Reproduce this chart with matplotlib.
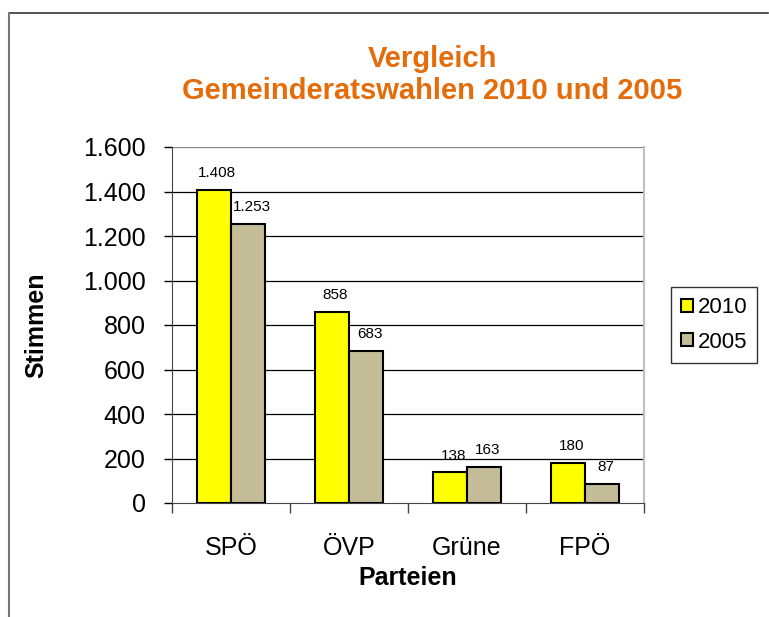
import matplotlib
matplotlib.use("Agg")
import matplotlib.pyplot as plt
import numpy as np
from matplotlib.lines import Line2D

categories = ["SPÖ", "ÖVP", "Grüne", "FPÖ"]
votes_2010 = [1408, 858, 138, 180]
votes_2005 = [1253, 683, 163, 87]
series_labels = ["2010", "2005"]
yticks = [0, 200, 400, 600, 800, 1000, 1200, 1400, 1600]

plt.rcParams['font.family'] = ['Liberation Sans', 'DejaVu Sans']

def de_fmt(v):
    return f"{v:,}".replace(",", ".")

W, H = 769, 617
fig = plt.figure(figsize=(W/100, H/100), dpi=100)

# outer frame (top and left edge)
fig.add_artist(Line2D([9/W, 768/W], [1-13/H, 1-13/H], color="#333333", lw=1.2, transform=fig.transFigure))
fig.add_artist(Line2D([9/W, 9/W], [1-13/H, 0], color="#777777", lw=1.5, transform=fig.transFigure))

ax = fig.add_axes([172/W, 1-503/H, (644-172)/W, (503-147)/H])

x = np.arange(len(categories))
bw = 0.29
b1 = ax.bar(x - bw/2, votes_2010, bw, color="#FFFF00", edgecolor="black", lw=1.5, label=series_labels[0], zorder=3)
b2 = ax.bar(x + bw/2, votes_2005, bw, color="#C4BD97", edgecolor="black", lw=1.5, label=series_labels[1], zorder=3)

for bars in (b1, b2):
    for r in bars:
        v = r.get_height()
        ax.annotate(de_fmt(int(v)), (r.get_x() + r.get_width()/2 + 0.03, v), xytext=(0, 7),
                    textcoords="offset points", ha="center", va="bottom", fontsize=11)

ax.set_xlim(-0.5, len(categories) - 0.5)
ax.set_ylim(0, 1600)
ax.set_yticks(yticks)
ax.set_yticklabels([de_fmt(t) for t in yticks], fontsize=18)
ax.set_xticks(x)
ax.set_xticklabels(categories, fontsize=18)
ax.tick_params(axis="x", length=0, pad=24)
ax.set_xticks(np.arange(-0.5, len(categories)), minor=True)
ax.tick_params(axis="x", which="minor", length=7, width=1, color="#444444")
ax.tick_params(axis="y", length=6, width=1, pad=13)

for t in yticks[1:-1]:
    ax.axhline(t, color="black", lw=0.9, zorder=1)
ax.axhline(1600, color="#888888", lw=1, zorder=1)

ax.spines["top"].set_visible(False)
ax.spines["right"].set_color("#C0C0C0")
ax.spines["right"].set_linewidth(1.5)
ax.spines["left"].set_color("#444444")
ax.spines["bottom"].set_color("#444444")

fig.text(36/W, 1-325/H, "Stimmen", rotation=90, ha="center", va="center", fontsize=18, fontweight="bold")
fig.text(408/W, 1-578/H, "Parteien", ha="center", va="center", fontsize=18, fontweight="bold")

fig.text(432/W, 1-75/H, "Vergleich\nGemeinderatswahlen 2010 und 2005", ha="center", va="center",
         fontsize=21, fontweight="bold", color="#E46C0A", linespacing=1.2)

leg = fig.legend(handles=[b1, b2], labels=series_labels, loc="center", bbox_to_anchor=(714/W, 1-325/H),
                 frameon=True, fontsize=16, handlelength=0.55, handleheight=0.55, handletextpad=0.2,
                 borderpad=0.45, labelspacing=0.6, fancybox=False, edgecolor="black")
leg.get_frame().set_linewidth(1)

fig.savefig("out.png", dpi=100)
